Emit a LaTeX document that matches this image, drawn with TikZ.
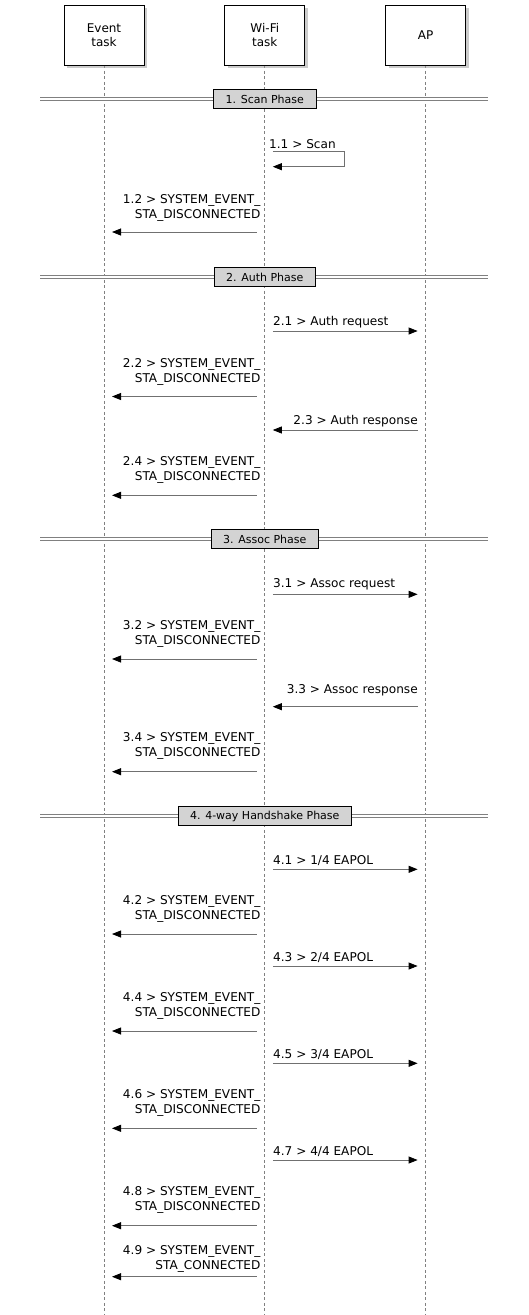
\documentclass[tikz,border=0pt]{standalone}
\usepackage{fontspec}
\setmainfont{DejaVu Sans}
\usepackage{tikz}
\usetikzlibrary{arrows.meta,positioning,shadows,backgrounds}
\definecolor{seqline}{HTML}{808080}
\definecolor{seqmsg}{HTML}{707070}
\definecolor{seqphase}{HTML}{D3D3D3}
\newcommand\msgfont{\fontsize{12.1}{15}\selectfont}
\newcommand\phasefont{\fontsize{11}{13}\selectfont}
\tikzset{
  actor/.style={draw=black,line width=0.8pt,fill=white,align=center,
                minimum width=80pt,minimum height=60pt,font=\fontsize{12}{13.5}\selectfont,
                drop shadow={shadow xshift=3pt,shadow yshift=-3pt,fill=black!40}},
  lifeline/.style={draw=seqline,line width=0.8pt,dash pattern=on 3pt off 2.5pt},
  phasebox/.style={draw=black,line width=0.7pt,fill=seqphase,minimum height=19pt,
                   inner xsep=12pt,inner ysep=0pt,font=\phasefont},
  phaseline/.style={draw=seqline,double=white,double distance=2pt,line width=1pt},
  msg/.style={draw=seqmsg,line width=0.8pt,-{Triangle[length=9pt,width=7pt,color=black]},
              shorten <=8pt,shorten >=8pt},
  msglabel/.style={font=\msgfont,inner sep=0pt,text depth=0pt},
  tolabel/.style={msglabel,anchor=south east,align=right,xshift=-4pt},
  fromlabel/.style={msglabel,anchor=south west,align=left,xshift=8pt},
  backlabel/.style={msglabel,anchor=south east,align=right,xshift=-7.5pt}
}
\begin{document}
\begin{tikzpicture}[x=1pt,y=-1pt]
    \useasboundingbox (0,0) rectangle (528,1315);

    % participants
    \node[actor] (event) at (104,35) {Event\\task};
    \node[actor,right=80pt of event] (wifi) {Wi-Fi\\task};
    \node[actor,right=80pt of wifi] (ap) {AP};

    % rows
    \coordinate (lft) at (40,0);
    \coordinate (rgt) at (488,0);
    \coordinate (bottom) at (0,1315);
    \foreach \n/\y in {p1/99,p2/277,p3/539,p4/816,
                       m11/151.7,m12/232,m21/331,m22/396.5,m23/430,m24/495.3,
                       m31/594.3,m32/659,m33/706.7,m34/771.7,
                       m41/869.3,m42/934,m43/966,m44/1031,m45/1063.3,
                       m46/1128.3,m47/1160,m48/1225.7,m49/1276.7}
      \coordinate (\n) at (0,\y);

    % phases
    \node[phasebox] (scan) at (wifi |- p1) {1. Scan Phase};
    \node[phasebox] (auth) at (wifi |- p2) {2. Auth Phase};
    \node[phasebox] (assoc) at (wifi |- p3) {3. Assoc Phase};
    \node[phasebox] (shake) at (wifi |- p4) {4. 4-way Handshake Phase};

    \begin{scope}[on background layer]
      \draw[lifeline] (event.south) -- (event |- bottom);
      \draw[lifeline] (wifi.south) -- (wifi |- bottom);
      \draw[lifeline] (ap.south) -- (ap |- bottom);
      \draw[phaseline] (lft |- scan) -- (rgt |- scan);
      \draw[phaseline] (lft |- auth) -- (rgt |- auth);
      \draw[phaseline] (lft |- assoc) -- (rgt |- assoc);
      \draw[phaseline] (lft |- shake) -- (rgt |- shake);
    \end{scope}

    % 1. scan
    \draw[msg,shorten <=0pt,shorten >=0pt] ([xshift=8pt]wifi |- m11)
      node[msglabel,anchor=south west,xshift=-4pt,yshift=3pt] (l11) {1.1 > Scan}
      -- ++(72,0) -- ++(0,15) -- ++(-72,0);
    \draw[msg] (wifi |- m12) -- node[tolabel,pos=0,yshift=13.5pt] (l12) {1.2 > SYSTEM\_EVENT\_\\STA\_DISCONNECTED} (event |- m12);

    % 2. auth
    \draw[msg] (wifi |- m21) -- node[fromlabel,pos=0,yshift=5.5pt] (l21) {2.1 > Auth request} (ap |- m21);
    \draw[msg] (wifi |- m22) -- node[tolabel,pos=0,yshift=14pt] (l22) {2.2 > SYSTEM\_EVENT\_\\STA\_DISCONNECTED} (event |- m22);
    \draw[msg] (ap |- m23) -- node[backlabel,pos=0,yshift=5.5pt] (l23) {2.3 > Auth response} (wifi |- m23);
    \draw[msg] (wifi |- m24) -- node[tolabel,pos=0,yshift=14pt] (l24) {2.4 > SYSTEM\_EVENT\_\\STA\_DISCONNECTED} (event |- m24);

    % 3. assoc
    \draw[msg] (wifi |- m31) -- node[fromlabel,pos=0,yshift=6pt] (l31) {3.1 > Assoc request} (ap |- m31);
    \draw[msg] (wifi |- m32) -- node[tolabel,pos=0,yshift=14.5pt] (l32) {3.2 > SYSTEM\_EVENT\_\\STA\_DISCONNECTED} (event |- m32);
    \draw[msg] (ap |- m33) -- node[backlabel,pos=0,yshift=12.7pt] (l33) {3.3 > Assoc response} (wifi |- m33);
    \draw[msg] (wifi |- m34) -- node[tolabel,pos=0,yshift=14.5pt] (l34) {3.4 > SYSTEM\_EVENT\_\\STA\_DISCONNECTED} (event |- m34);

    % 4. 4-way handshake
    \draw[msg] (wifi |- m41) -- node[fromlabel,pos=0,yshift=4.5pt] (l41) {4.1 > 1/4 EAPOL} (ap |- m41);
    \draw[msg] (wifi |- m42) -- node[tolabel,pos=0,yshift=14.5pt] (l42) {4.2 > SYSTEM\_EVENT\_\\STA\_DISCONNECTED} (event |- m42);
    \draw[msg] (wifi |- m43) -- node[fromlabel,pos=0,yshift=4pt] (l43) {4.3 > 2/4 EAPOL} (ap |- m43);
    \draw[msg] (wifi |- m44) -- node[tolabel,pos=0,yshift=14.5pt] (l44) {4.4 > SYSTEM\_EVENT\_\\STA\_DISCONNECTED} (event |- m44);
    \draw[msg] (wifi |- m45) -- node[fromlabel,pos=0,yshift=4pt] (l45) {4.5 > 3/4 EAPOL} (ap |- m45);
    \draw[msg] (wifi |- m46) -- node[tolabel,pos=0,yshift=14.5pt] (l46) {4.6 > SYSTEM\_EVENT\_\\STA\_DISCONNECTED} (event |- m46);
    \draw[msg] (wifi |- m47) -- node[fromlabel,pos=0,yshift=4pt] (l47) {4.7 > 4/4 EAPOL} (ap |- m47);
    \draw[msg] (wifi |- m48) -- node[tolabel,pos=0,yshift=14.5pt] (l48) {4.8 > SYSTEM\_EVENT\_\\STA\_DISCONNECTED} (event |- m48);
    \draw[msg] (wifi |- m49) -- node[tolabel,pos=0,yshift=7pt] (l49) {4.9 > SYSTEM\_EVENT\_\\STA\_CONNECTED} (event |- m49);
\end{tikzpicture}
\end{document}
